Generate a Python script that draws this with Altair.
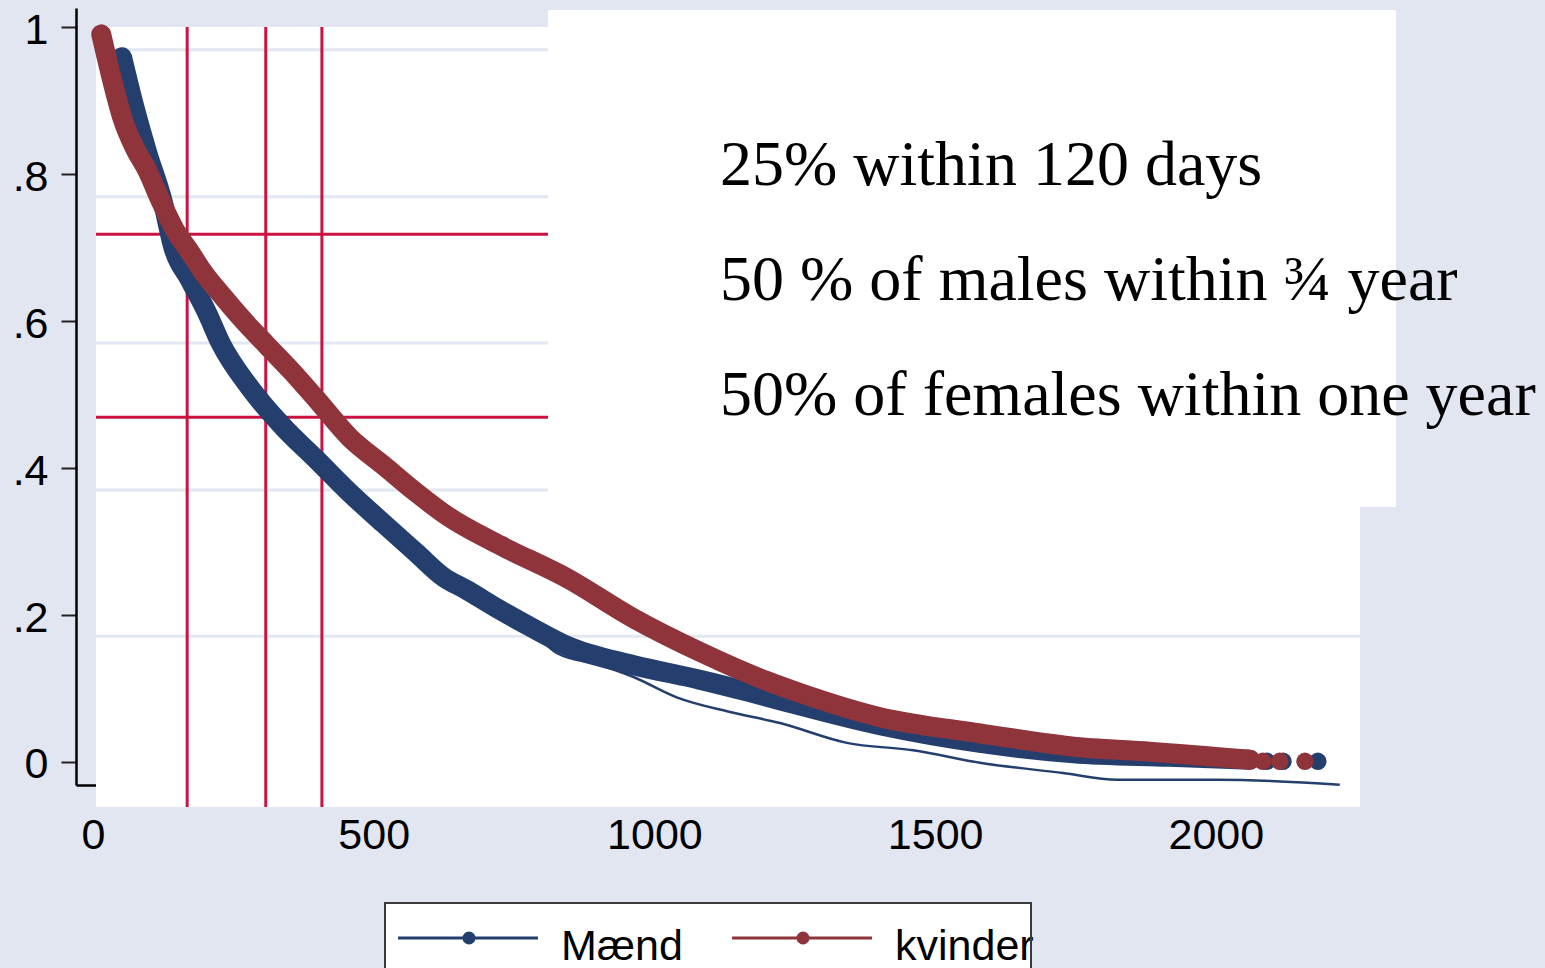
import altair as alt
import pandas as pd

# Series labels and colours (Stata s2color navy / maroon)
groups = ["Mænd", "kvinder"]
group_colors = ["#243f6e", "#8f343b"]

# Kaplan-Meier style survival curves: days vs. share still without event
male_days = [41, 61, 86, 114, 132, 162, 192, 216, 269, 328, 388, 447, 506, 566,
             613, 655, 714, 773, 834, 951, 1070, 1159, 1213, 1391, 1569, 1735, 1907, 2050]
male_surv = [0.959, 0.897, 0.829, 0.761, 0.701, 0.656, 0.612, 0.571, 0.509, 0.456,
             0.411, 0.366, 0.325, 0.284, 0.252, 0.234, 0.207, 0.182, 0.158, 0.132,
             0.112, 0.095, 0.084, 0.050, 0.026, 0.012, 0.007, 0.003]
male_tail_days = [2080, 2109, 2171]
male_tail_surv = [0.001, 0.001, 0.001]

female_days = [4, 21, 43, 64, 86, 109, 135, 162, 185, 221, 257, 299, 344, 388, 447,
               506, 566, 620, 714, 834, 951, 1070, 1190, 1248, 1391, 1569, 1747, 1872, 2050]
female_surv = [0.990, 0.935, 0.873, 0.835, 0.805, 0.765, 0.724, 0.694, 0.667, 0.633,
               0.601, 0.567, 0.531, 0.493, 0.441, 0.404, 0.366, 0.335, 0.295, 0.250,
               0.196, 0.150, 0.110, 0.094, 0.061, 0.039, 0.020, 0.014, 0.003]
female_tail_days = [2073, 2103, 2148]
female_tail_surv = [0.001, 0.001, 0.001]

# second (thin) male curve where it separates from the main one
male_low_days = [773, 816, 892, 951, 1029, 1124, 1213, 1332, 1450, 1569, 1717, 1813, 1991, 2210]
male_low_surv = [0.178, 0.148, 0.132, 0.116, 0.088, 0.068, 0.053, 0.026, 0.016,
                 -0.001, -0.015, -0.024, -0.024, -0.031]

# reference lines
ref_days = [157, 297, 397]
ref_surv = [0.718, 0.469]

# axes
x_ticks = [0, 500, 1000, 1500, 2000]
y_ticks = [0, 0.2, 0.4, 0.6, 0.8, 1]
grid_levels = [0.969, 0.769, 0.570, 0.370, 0.171]

notes = ["25% within 120 days",
         "50 % of males within ¾ year",
         "50% of females within one year"]

W, H = 1266, 777
BG = "#e1e6f0"
RED = "#cc1242"
SANS = "Liberation Sans"

xscale = alt.Scale(domain=[-41, 2214], nice=False, zero=False)
yscale = alt.Scale(domain=[-0.0313, 1.0259], nice=False, zero=False)

xaxis = alt.Axis(values=x_ticks, format="d", title=None, grid=False, labelFont=SANS,
                 labelFontSize=43, labelColor="black", tickSize=17, tickColor="#222222",
                 tickWidth=2, domainColor="black", domainWidth=2.5, labelPadding=12,
                 labelAngle=0, labelOffset=-6, labelFlush=False, labelOverlap=False)
yaxis = alt.Axis(values=y_ticks, title=None, grid=False, labelFont=SANS,
                 labelFontSize=43, labelColor="black", tickSize=15, tickColor="#222222",
                 tickWidth=2, domainColor="black", domainWidth=2.5, labelPadding=13,
                 labelOffset=3, labelFlush=False, labelOverlap=False,
                 labelExpr="datum.value == 0 ? '0' : datum.value == 1 ? '1' : "
                           "replace(format(datum.value, '.1f'), '0.', '.')")


def X(field):
    return alt.X(field, type="quantitative", scale=xscale, axis=xaxis)


def Y(field):
    return alt.Y(field, type="quantitative", scale=yscale, axis=yaxis)


one = pd.DataFrame({"k": [0]})

# white plotting panel
panel = alt.Chart(one).mark_rect(color="white").encode(
    x=alt.value(20), x2=alt.value(1284), y=alt.value(19), y2=alt.value(799))

grid = alt.Chart(pd.DataFrame({"level": grid_levels})).mark_rule(
    color="#e2e7f1", strokeWidth=3).encode(
    y=Y("level"), x=alt.value(20), x2=alt.value(1284))

vlines = alt.Chart(pd.DataFrame({"day": ref_days})).mark_rule(
    color=RED, strokeWidth=3).encode(
    x=X("day"), y=alt.value(19), y2=alt.value(799))

hlines = alt.Chart(pd.DataFrame({"surv": ref_surv})).mark_rule(
    color=RED, strokeWidth=3).encode(
    y=Y("surv"), x=alt.value(20), x2=alt.value(1284))

male_df = pd.DataFrame({"days": male_days, "surv": male_surv})
female_df = pd.DataFrame({"days": female_days, "surv": female_surv})
male_tail = pd.DataFrame({"days": male_tail_days, "surv": male_tail_surv})
female_tail = pd.DataFrame({"days": female_tail_days, "surv": female_tail_surv})
male_low = pd.DataFrame({"days": male_low_days, "surv": male_low_surv})

thin = alt.Chart(male_low).mark_line(
    color=group_colors[0], strokeWidth=2.5, interpolate="monotone").encode(
    x=X("days"), y=Y("surv"))


def band(df, color):
    return alt.Chart(df).mark_line(
        color=color, strokeWidth=20, strokeCap="round", strokeJoin="round",
        interpolate="monotone").encode(
        x=X("days"), y=Y("surv"))


def dots(df, color):
    return alt.Chart(df).mark_circle(color=color, size=300, opacity=1).encode(
        x=X("days"), y=Y("surv"))


male_band = band(male_df, group_colors[0])
male_dots = dots(male_tail, group_colors[0])
female_band = band(female_df, group_colors[1])
female_dots = dots(female_tail, group_colors[1])

# annotation box
note_box = alt.Chart(one).mark_rect(color="white").encode(
    x=alt.value(472), x2=alt.value(1320), y=alt.value(2), y2=alt.value(499))
note_layers = [
    alt.Chart(one).mark_text(font="Liberation Serif", fontSize=64, align="left",
                             baseline="alphabetic", color="black").encode(
        x=alt.value(644), y=alt.value(177 + 115 * i), text=alt.value(t))
    for i, t in enumerate(notes)
]

# legend strip at the bottom
leg_box = alt.Chart(one).mark_rect(fill="white").encode(
    x=alt.value(309), x2=alt.value(955), y=alt.value(895), y2=alt.value(1010))
leg_frame = alt.Chart(one).mark_rect(fill="transparent", stroke="#3a3a3a",
                                     strokeWidth=2).encode(
    x=alt.value(309), x2=alt.value(955), y=alt.value(895), y2=alt.value(1010))
legend_layers = [leg_box]
for i, (g, c) in enumerate(zip(groups, group_colors)):
    x0 = 322 + 334 * i
    legend_layers.append(alt.Chart(one).mark_rule(color=c, strokeWidth=3).encode(
        x=alt.value(x0), x2=alt.value(x0 + 140), y=alt.value(930)))
    legend_layers.append(alt.Chart(one).mark_circle(color=c, size=170, opacity=1).encode(
        x=alt.value(x0 + 71), y=alt.value(930)))
    legend_layers.append(alt.Chart(one).mark_text(font=SANS, fontSize=43, align="left",
                                                  baseline="alphabetic", color="black").encode(
        x=alt.value(x0 + 163), y=alt.value(952), text=alt.value(g)))
legend_layers.append(leg_frame)

chart = alt.layer(
    panel, grid, vlines, hlines, thin, male_band, male_dots, female_band, female_dots,
    note_box, *note_layers, *legend_layers
).properties(
    width=W, height=H,
    padding={"left": 76, "top": 8, "right": 203, "bottom": 183},
    autosize=alt.AutoSizeParams(type="none"),
    background=BG,
).configure_view(strokeWidth=0)

chart.save("out.html", embed_options={"renderer": "svg", "actions": False})
